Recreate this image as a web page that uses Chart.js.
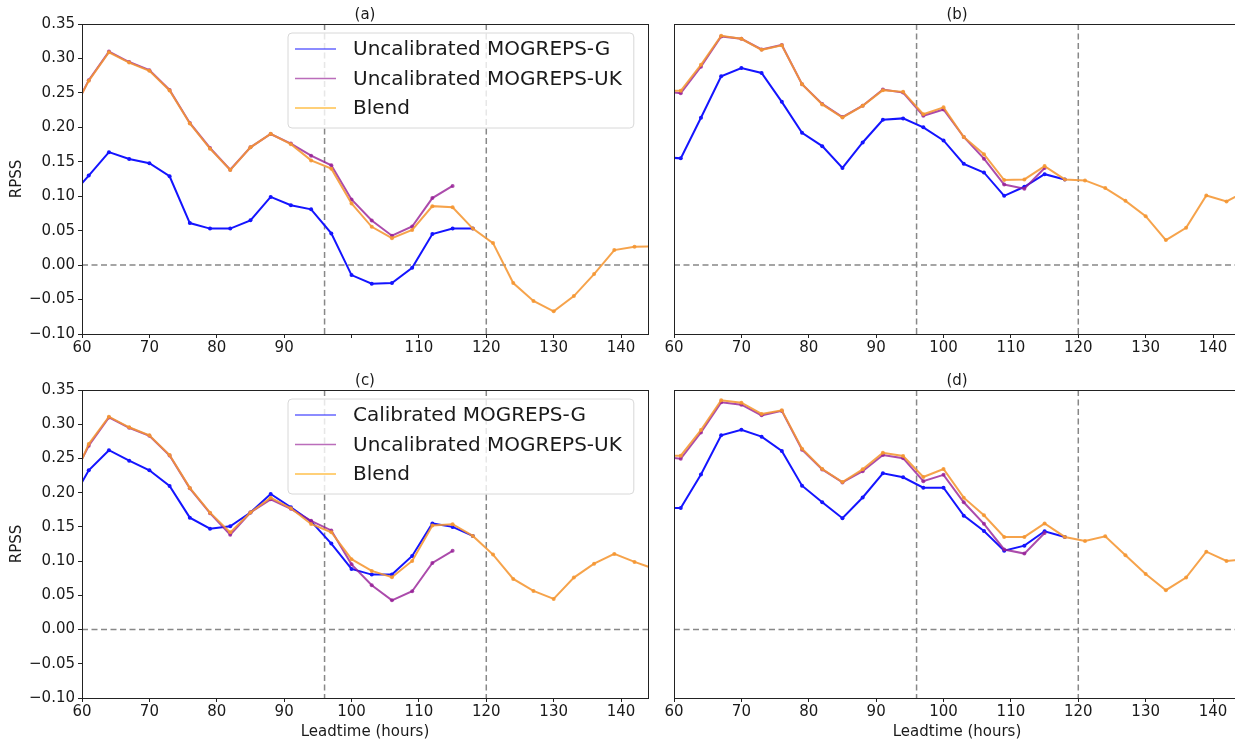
<!DOCTYPE html>
<html lang="en">
<head>
<meta charset="UTF-8">
<title>RPSS by leadtime</title>
<script src="https://cdn.jsdelivr.net/npm/chart.js"></script>
<style>
    * { margin: 0; padding: 0; box-sizing: border-box; }
    body { background: #fff; width: 1235px; height: 741px; overflow: hidden; position: relative; }
    canvas { position: absolute; }
</style>
</head>
<body>
<canvas id="panelA" width="660" height="370" style="left:0;top:0"></canvas>
<canvas id="panelB" width="600" height="370" style="left:660px;top:0"></canvas>
<canvas id="panelC" width="660" height="371" style="left:0;top:370px"></canvas>
<canvas id="panelD" width="600" height="371" style="left:660px;top:370px"></canvas>

<script>
    // lead times (hours); G series stops at 118, UK at 115, blend runs to the end
    const hours = [58, 61, 64, 67, 70, 73, 76, 79, 82, 85, 88, 91, 94, 97, 100, 103, 106, 109, 112, 115,
                   118, 121, 124, 127, 130, 133, 136, 139, 142, 145];
    const refHours = [96, 120];

    // (a) uncalibrated G / (c) calibrated G, left column
    const gA = [0.097, 0.130, 0.164, 0.154, 0.148, 0.129, 0.061, 0.053, 0.053, 0.065, 0.099, 0.087, 0.081,
                0.046, -0.0145, -0.027, -0.026, -0.004, 0.045, 0.053, 0.053];
    const gC = [0.180, 0.2327, 0.262, 0.2467, 0.2327, 0.2098, 0.1635, 0.1474, 0.151, 0.171, 0.198, 0.1787,
                0.158, 0.1256, 0.0886, 0.0803, 0.0803, 0.1076, 0.155, 0.150, 0.1368];
    // (b) / (d), right column
    const gB = [0.157, 0.155, 0.214, 0.274, 0.286, 0.279, 0.237, 0.192, 0.1727, 0.141, 0.178, 0.211, 0.213,
                0.200, 0.181, 0.147, 0.1345, 0.1006, 0.1137, 0.132, 0.1244];
    const gD = [0.1777, 0.1777, 0.2267, 0.2838, 0.292, 0.2818, 0.2609, 0.2102, 0.186, 0.1626, 0.193, 0.2283,
                0.2225, 0.2073, 0.2073, 0.1664, 0.1441, 0.1153, 0.1226, 0.1436, 0.1353];

    // uncalibrated MOGREPS-UK is the same in both rows
    const ukLeft = [0.210, 0.2685, 0.310, 0.2948, 0.283, 0.2543, 0.2063, 0.170, 0.1385, 0.171, 0.1903, 0.1764,
                    0.1589, 0.1448, 0.0953, 0.0647, 0.0427, 0.056, 0.0973, 0.115];
    const ukRight = [0.2525, 0.2495, 0.288, 0.332, 0.3285, 0.313, 0.3195, 0.2627, 0.234, 0.215, 0.2314, 0.255,
                     0.2504, 0.2168, 0.226, 0.186, 0.1545, 0.117, 0.111, 0.141];

    const blendA = [0.212, 0.2675, 0.309, 0.294, 0.282, 0.2535, 0.2056, 0.169, 0.138, 0.171, 0.1906, 0.1756,
                    0.152, 0.140, 0.0895, 0.0556, 0.039, 0.051, 0.0856, 0.084, 0.053, 0.032, -0.026, -0.052,
                    -0.067, -0.045, -0.013, 0.0218, 0.0266, 0.027];
    const blendB = [0.253, 0.253, 0.2907, 0.333, 0.3285, 0.3125, 0.319, 0.2627, 0.2332, 0.2143, 0.2312, 0.254,
                    0.2515, 0.219, 0.229, 0.186, 0.161, 0.1234, 0.1244, 0.1437, 0.1244, 0.123, 0.1118, 0.0933,
                    0.0711, 0.0363, 0.0541, 0.101, 0.0925, 0.108];
    const blendC = [0.204, 0.271, 0.311, 0.2955, 0.2838, 0.255, 0.207, 0.1708, 0.142, 0.171, 0.1927, 0.1772,
                    0.1543, 0.1422, 0.1028, 0.0857, 0.0765, 0.1003, 0.1521, 0.1539, 0.1368, 0.1095, 0.074,
                    0.0565, 0.0448, 0.0759, 0.0963, 0.1105, 0.0988, 0.0886];
    const blendD = [0.254, 0.254, 0.2915, 0.335, 0.3314, 0.315, 0.3203, 0.2642, 0.2346, 0.2156, 0.2341, 0.2583,
                    0.2536, 0.2229, 0.2346, 0.1927, 0.167, 0.1353, 0.1353, 0.155, 0.1353, 0.1295, 0.1363,
                    0.1085, 0.0813, 0.0575, 0.0759, 0.1138, 0.1003, 0.103];

    const legendTop = ['Uncalibrated MOGREPS-G', 'Uncalibrated MOGREPS-UK', 'Blend'];
    const legendBottom = ['Calibrated MOGREPS-G', 'Uncalibrated MOGREPS-UK', 'Blend'];

    const FONT = 'DejaVu Sans';
    const TEXT = '#1a1a1a';
    const BLUE = '#1414ff';
    const PURPLE = 'rgba(150, 30, 150, 0.8)';
    const ORANGE = 'rgba(245, 150, 50, 0.88)';
    const legendColors = ['rgba(20, 20, 255, 0.65)', 'rgba(150, 30, 150, 0.65)', 'rgba(255, 165, 0, 0.7)'];

    function pts(vals) {
        return vals.map((v, i) => ({ x: hours[i], y: v }));
    }

    function fmtY(v) {
        const s = (Math.round(v * 100) / 100).toFixed(2);
        return s === '-0.00' ? '0.00' : s.replace('-', '\u2212');
    }

    const decorations = {
        id: 'decorations',
        beforeDatasetsDraw(chart) {
            const { ctx, chartArea: a, scales: { x, y } } = chart;
            ctx.save();
            ctx.strokeStyle = '#888';
            ctx.lineWidth = 1.5;
            ctx.setLineDash([6, 3.5]);
            ctx.beginPath();
            const y0 = y.getPixelForValue(0);
            ctx.moveTo(a.left, y0);
            ctx.lineTo(a.right, y0);
            refHours.forEach(h => {
                const px = x.getPixelForValue(h);
                ctx.moveTo(px, a.top);
                ctx.lineTo(px, a.bottom);
            });
            ctx.stroke();
            ctx.restore();
        },
        afterDatasetsDraw(chart, args, opts) {
            const { ctx, chartArea: a } = chart;
            ctx.save();
            // axes box
            ctx.strokeStyle = '#222';
            ctx.lineWidth = 1;
            ctx.strokeRect(Math.round(a.left) + 0.5, Math.round(a.top) + 0.5,
                           Math.round(a.right - a.left), Math.round(a.bottom - a.top));
            // panel label
            ctx.fillStyle = TEXT;
            ctx.font = '15px "' + FONT + '"';
            ctx.textAlign = 'center';
            ctx.textBaseline = 'middle';
            ctx.fillText(opts.title, (a.left + a.right) / 2, a.top - 9);

            if (opts.legend) {
                ctx.font = '20px "' + FONT + '"';
                const tw = Math.max(...opts.legend.map(t => ctx.measureText(t).width));
                const bx = a.left + 206, by = a.top + 9;
                const bw = 65 + tw + 12, bh = 95, r = 4;
                ctx.beginPath();
                ctx.moveTo(bx + r, by);
                ctx.arcTo(bx + bw, by, bx + bw, by + bh, r);
                ctx.arcTo(bx + bw, by + bh, bx, by + bh, r);
                ctx.arcTo(bx, by + bh, bx, by, r);
                ctx.arcTo(bx, by, bx + bw, by, r);
                ctx.closePath();
                ctx.fillStyle = 'rgba(255, 255, 255, 0.8)';
                ctx.fill();
                ctx.strokeStyle = '#d8d8d8';
                ctx.stroke();
                ctx.textAlign = 'left';
                opts.legend.forEach((t, i) => {
                    const ry = by + 16 + i * 29.5;
                    ctx.strokeStyle = legendColors[i];
                    ctx.lineWidth = 1.5;
                    ctx.beginPath();
                    ctx.moveTo(bx + 7, ry);
                    ctx.lineTo(bx + 48, ry);
                    ctx.stroke();
                    ctx.fillStyle = TEXT;
                    ctx.fillText(t, bx + 65, ry + 1);
                });
            }
            ctx.restore();
        }
    };

    function series(data, color, order) {
        return {
            data: pts(data),
            borderColor: color,
            backgroundColor: color,
            borderWidth: 2,
            pointRadius: 2,
            pointBorderWidth: 0,
            pointHoverRadius: 2,
            tension: 0,
            order: order
        };
    }

    function makePanel(id, cfg) {
        const tickFont = { family: FONT, size: 15 };
        new Chart(document.getElementById(id), {
            type: 'line',
            data: {
                datasets: [
                    series(cfg.blend, ORANGE, 0),
                    series(cfg.uk, PURPLE, 1),
                    series(cfg.g, BLUE, 2)
                ]
            },
            options: {
                responsive: false,
                animation: false,
                devicePixelRatio: 1,
                layout: { padding: { top: cfg.bottom ? 20 : 24, right: cfg.left ? 12 : 20, left: 0, bottom: 0 } },
                plugins: {
                    legend: { display: false },
                    tooltip: { enabled: false },
                    decorations: { title: cfg.title, legend: cfg.legend }
                },
                scales: {
                    x: {
                        type: 'linear',
                        min: 60,
                        max: 144,
                        ticks: {
                            stepSize: 10,
                            includeBounds: false,
                            maxRotation: 0,
                            autoSkip: false,
                            padding: 1,
                            color: TEXT,
                            font: tickFont,
                            callback: v => (cfg.hideTicks || []).includes(v) ? '' : String(v)
                        },
                        grid: { drawOnChartArea: false, drawTicks: true, tickLength: 4, color: '#222' },
                        border: { display: true, color: '#222' },
                        title: {
                            display: cfg.bottom,
                            text: 'Leadtime (hours)',
                            color: TEXT,
                            font: tickFont,
                            padding: 0
                        },
                        afterFit(s) { s.height = cfg.bottom ? 43 : 36; }
                    },
                    y: {
                        min: -0.1,
                        max: 0.35,
                        ticks: {
                            display: cfg.left,
                            stepSize: 0.05,
                            padding: 3,
                            color: TEXT,
                            font: tickFont,
                            callback: v => fmtY(v)
                        },
                        grid: { display: cfg.left, drawOnChartArea: false, drawTicks: true, tickLength: 4, color: '#222' },
                        border: { display: true, color: '#222' },
                        title: {
                            display: cfg.left,
                            text: 'RPSS',
                            color: TEXT,
                            font: tickFont,
                            padding: { top: 8, bottom: 0 }
                        },
                        afterFit(s) { s.width = cfg.left ? 82 : 14; }
                    }
                }
            },
            plugins: [decorations]
        });
    }

    makePanel('panelA', { left: true, bottom: false, title: '(a)', g: gA, uk: ukLeft, blend: blendA,
                          legend: legendTop, hideTicks: [100] });
    makePanel('panelB', { left: false, bottom: false, title: '(b)', g: gB, uk: ukRight, blend: blendB });
    makePanel('panelC', { left: true, bottom: true, title: '(c)', g: gC, uk: ukLeft, blend: blendC,
                          legend: legendBottom });
    makePanel('panelD', { left: false, bottom: true, title: '(d)', g: gD, uk: ukRight, blend: blendD });
</script>
</body>
</html>
